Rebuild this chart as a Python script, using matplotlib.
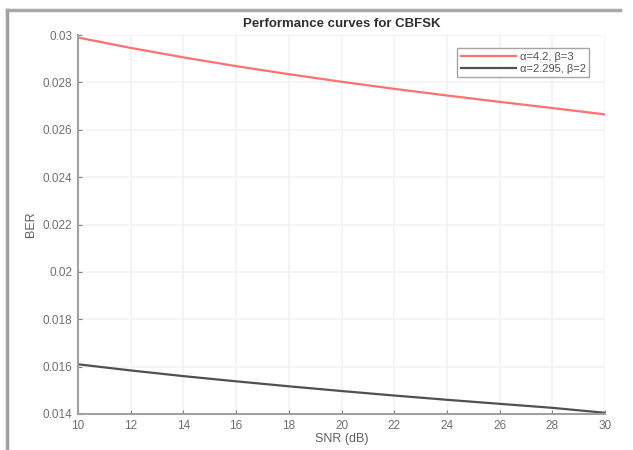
import numpy as np
import matplotlib
matplotlib.use('Agg')
from matplotlib import pyplot as plt
from matplotlib.lines import Line2D

snr = [10, 12, 14, 16, 18, 20, 22, 24, 26, 28, 30]
ber_a = [0.02990, 0.02946, 0.02906, 0.02869, 0.02835, 0.02803, 0.02773, 0.02745, 0.02718, 0.02692, 0.02665]
ber_b = [0.01610, 0.01584, 0.01560, 0.01538, 0.01517, 0.01497, 0.01478, 0.01460, 0.01443, 0.01426, 0.01405]
labels = ['α=4.2, β=3', 'α=2.295, β=2']
xticks = list(range(10, 31, 2))
yticks = [0.014, 0.016, 0.018, 0.02, 0.022, 0.024, 0.026, 0.028, 0.03]
ytick_labels = ['0.014', '0.016', '0.018', '0.02', '0.022', '0.024', '0.026', '0.028', '0.03']

plt.rcParams['font.family'] = ['Liberation Sans', 'DejaVu Sans']

fig = plt.figure(figsize=(6.33, 4.5), dpi=100)
ax = fig.add_axes([0.123, 0.08, 0.833, 0.842])

ax.plot(snr, ber_a, color='#ff7070', linewidth=1.6, label=labels[0])
ax.plot(snr, ber_b, color='#505050', linewidth=1.6, label=labels[1])

ax.set_xlim(10, 30)
ax.set_ylim(0.014, 0.03)
ax.set_xticks(xticks)
ax.set_yticks(yticks)
ax.set_yticklabels(ytick_labels)
ax.grid(True, color='#f2f2f2', linewidth=1.2)
ax.set_axisbelow(True)

for s in ['top', 'right']:
    ax.spines[s].set_visible(False)
for s in ['left', 'bottom']:
    ax.spines[s].set_color('#a0a0a0')
    ax.spines[s].set_linewidth(1.5)

ax.tick_params(direction='in', length=3, colors='#808080', labelsize=8.5,
               labelcolor='#707070', pad=4)
ax.set_xlabel('SNR (dB)', fontsize=9, color='#606060', labelpad=1)
ax.set_ylabel('BER', fontsize=9, color='#606060', labelpad=4)
ax.set_title('Performance curves for CBFSK', fontsize=9.5, fontweight='bold',
             color='#303030', pad=6)

leg = ax.legend(loc='upper right', bbox_to_anchor=(0.98, 0.98), fontsize=8,
                frameon=True, fancybox=False, handlelength=5,
                borderpad=0.3, labelspacing=0.2, handletextpad=0.3)
leg.get_frame().set_edgecolor('#909090')
leg.get_frame().set_linewidth(1.0)
for t in leg.get_texts():
    t.set_color('#505050')

# outer window frame of the screenshot
fig.add_artist(Line2D([0.011, 0.011], [0, 0.978], color='#a0a0a0', linewidth=2.5,
                      transform=fig.transFigure))
fig.add_artist(Line2D([0.011, 0.98], [0.978, 0.978], color='#a8a8a8', linewidth=2.5,
                      transform=fig.transFigure))

fig.savefig('out.png', dpi=100)
